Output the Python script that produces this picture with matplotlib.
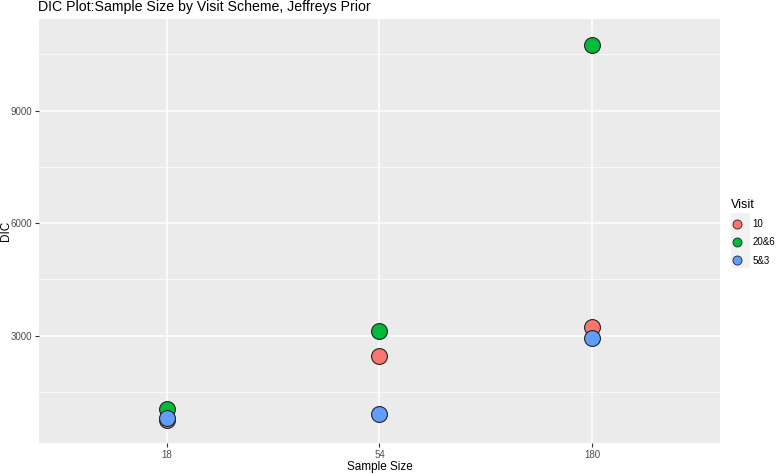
# DIC by sample size and visit scheme (Jeffreys prior), ggplot-like styling

import matplotlib.pyplot as plt
from matplotlib.lines import Line2D
from matplotlib.patches import Rectangle
from matplotlib.ticker import MultipleLocator

plt.rcParams['font.family'] = ['Liberation Sans', 'DejaVu Sans']

sample_sizes = ['18', '54', '180']
visits = ['10', '20&6', '5&3']
dic_10 = [750, 2470, 3235]
dic_20_6 = [1045, 3120, 10750]
dic_5_3 = [795, 910, 2925]
colors = ['#F8766D', '#00BA38', '#619CFF']

fig = plt.figure(figsize=(7.77, 4.74), dpi=100)
ax = fig.add_axes([0.0508, 0.0654, 0.8752, 0.8946])
ax.set_facecolor('#EBEBEB')

xpos = list(range(len(sample_sizes)))
for vals, col in zip([dic_10, dic_20_6, dic_5_3], colors):
    ax.scatter(xpos, vals, s=130, c=col, edgecolors='#222222', linewidths=0.8, zorder=3)

ax.set_xlim(-0.6, 2.6)
ax.set_ylim(140, 11440)
ax.set_xticks(xpos)
ax.set_xticklabels(sample_sizes)
ax.yaxis.set_major_locator(MultipleLocator(3000))
ax.yaxis.set_minor_locator(MultipleLocator(1500))

ax.grid(True, which='major', color='white', linewidth=1.1)
ax.grid(True, which='minor', axis='y', color='white', linewidth=0.5)
ax.set_axisbelow(True)
for sp in ax.spines.values():
    sp.set_visible(False)
ax.tick_params(which='major', length=3, width=0.8, color='#333333', labelsize=7,
               labelcolor='#4D4D4D', pad=2)
ax.tick_params(which='minor', length=0)

ax.set_xlabel('Sample Size', fontsize=8.5, labelpad=1)
ax.set_ylabel('DIC', fontsize=8.5)
ax.yaxis.set_label_coords(-0.041, 0.5)
fig.text(0.049, 0.999, 'DIC Plot:Sample Size by Visit Scheme, Jeffreys Prior',
         fontsize=10.2, va='top', ha='left')

# legend
handles = [Line2D([], [], marker='o', linestyle='', markersize=6.5, markerfacecolor=c,
                  markeredgecolor='#222222', markeredgewidth=0.6) for c in colors]
fig.patches.append(Rectangle((731 / 777, 1 - 268 / 474), 19 / 777, 55 / 474,
                             transform=fig.transFigure, facecolor='#F2F2F2',
                             edgecolor='none', zorder=0))
leg = fig.legend(handles, visits, title='Visit', loc='upper left',
                 bbox_to_anchor=(727 / 777, 1 - 195 / 474), frameon=False,
                 fontsize=7, title_fontsize=9, handlelength=1.2,
                 handletextpad=1.0, labelspacing=0.85, borderaxespad=0)
leg._legend_box.align = 'left'

fig.savefig('out.png', dpi=100)
